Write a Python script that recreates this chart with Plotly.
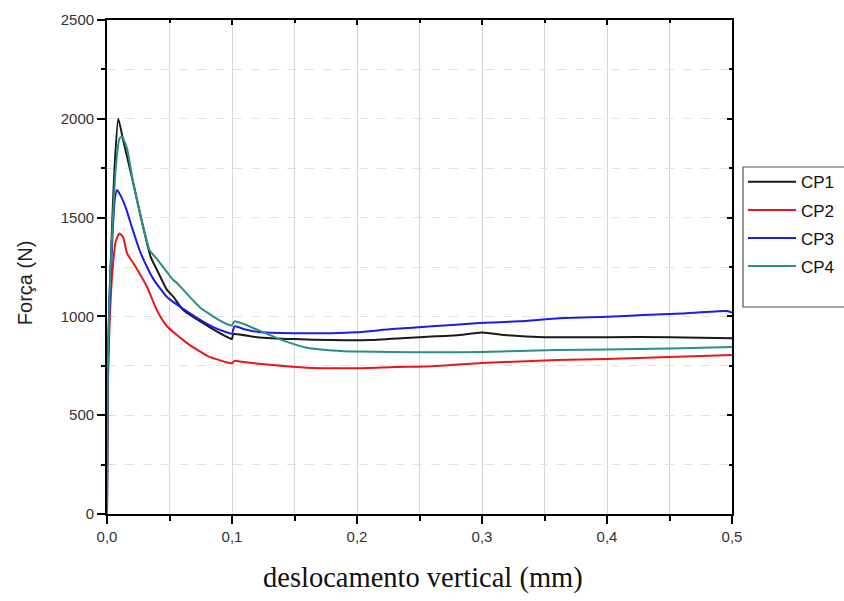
import plotly.graph_objects as go

# Force (N) vs vertical displacement (mm) for four specimens
cp1_x = [0, 0.0005, 0.002, 0.004, 0.006, 0.009, 0.013, 0.021, 0.029, 0.035, 0.040, 0.048, 0.053, 0.061,
         0.082, 0.098, 0.100, 0.101, 0.12, 0.15, 0.18, 0.21, 0.25, 0.28, 0.30, 0.32, 0.35, 0.40, 0.45, 0.50]
cp1_y = [0, 700, 1100, 1450, 1750, 2000, 1890, 1675, 1450, 1300, 1235, 1134, 1100, 1032,
         946, 890, 885, 910, 895, 885, 880, 880, 895, 905, 918, 905, 895, 895, 895, 890]

cp2_x = [0, 0.0005, 0.002, 0.004, 0.007, 0.010, 0.013, 0.016, 0.022, 0.032, 0.040, 0.048, 0.064,
         0.082, 0.098, 0.100, 0.102, 0.108, 0.13, 0.16, 0.20, 0.23, 0.26, 0.30, 0.36, 0.40, 0.45, 0.50]
cp2_y = [0, 600, 950, 1200, 1380, 1420, 1400, 1320, 1260, 1150, 1030, 950, 865,
         795, 764, 762, 775, 770, 755, 740, 738, 744, 748, 764, 779, 785, 795, 805]

cp3_x = [0, 0.0005, 0.002, 0.004, 0.006, 0.008, 0.011, 0.015, 0.020, 0.026, 0.032, 0.037, 0.048, 0.066,
         0.085, 0.098, 0.100, 0.102, 0.11, 0.121, 0.15, 0.18, 0.20, 0.228, 0.26, 0.298, 0.33, 0.362,
         0.40, 0.429, 0.46, 0.496, 0.50]
cp3_y = [0, 650, 1050, 1350, 1580, 1640, 1610, 1550, 1450, 1336, 1250, 1190, 1098, 1017,
         946, 915, 912, 950, 935, 921, 915, 915, 920, 936, 950, 966, 975, 991,
         998, 1007, 1015, 1027, 1020]

cp4_x = [0, 0.0005, 0.002, 0.004, 0.007, 0.010, 0.012, 0.016, 0.021, 0.029, 0.034, 0.040, 0.053, 0.056,
         0.074, 0.090, 0.098, 0.100, 0.102, 0.11, 0.121, 0.14, 0.161, 0.18, 0.20, 0.228, 0.26, 0.30,
         0.36, 0.40, 0.45, 0.50]
cp4_y = [0, 700, 1100, 1400, 1750, 1900, 1910, 1850, 1675, 1452, 1336, 1290, 1184, 1169,
         1048, 980, 956, 955, 975, 960, 930, 880, 840, 828, 822, 820, 818, 820,
         830, 833, 838, 845]

series_names = ["CP1", "CP2", "CP3", "CP4"]
series_colors = ["#1a1a1a", "#e8171c", "#1c1ce6", "#2a8f86"]

x_tick_vals = [0.0, 0.1, 0.2, 0.3, 0.4, 0.5]
x_tick_text = ["0,0", "0,1", "0,2", "0,3", "0,4", "0,5"]
y_tick_vals = [0, 500, 1000, 1500, 2000, 2500]
y_tick_text = ["0", "500", "1000", "1500", "2000", "2500"]

fig = go.Figure()
for name, xs, ys, col in zip(series_names,
                             [cp1_x, cp2_x, cp3_x, cp4_x],
                             [cp1_y, cp2_y, cp3_y, cp4_y],
                             series_colors):
    fig.add_trace(go.Scatter(x=xs, y=ys, mode="lines", name=name, legendgroup=name,
                             line=dict(color=col, width=2, shape="spline", smoothing=0.5)))

# carrier trace so the mirrored top/right axes get drawn
fig.add_trace(go.Scatter(x=[None], y=[None], xaxis="x2", yaxis="y2", showlegend=False,
                         hoverinfo="skip"))

tick_font = dict(family="Liberation Sans, Arial, sans-serif", size=15, color="#333333")

fig.update_layout(
    width=844, height=601,
    margin=dict(l=107, r=112, t=20, b=87, autoexpand=False),
    paper_bgcolor="white", plot_bgcolor="white",
    showlegend=True,
    legend=dict(x=1.0176, y=0.708, xanchor="left", yanchor="top",
                font=dict(family="Liberation Sans, Arial, sans-serif", size=17, color="#111111"),
                bgcolor="rgba(0,0,0,0)", borderwidth=0, tracegroupgap=3, itemwidth=48),
    xaxis=dict(range=[0, 0.5], tickvals=x_tick_vals, ticktext=x_tick_text,
               ticks="outside", ticklen=8, tickwidth=1.5, tickcolor="black",
               showline=True, linecolor="black", linewidth=1.8, mirror=True,
               showgrid=True, gridcolor="#d6d6d6", gridwidth=1, zeroline=False,
               tickfont=tick_font,
               minor=dict(dtick=0.05, tick0=0, ticks="outside", ticklen=5, tickwidth=1.5,
                          tickcolor="black", showgrid=True, gridcolor="#d6d6d6", gridwidth=1)),
    yaxis=dict(range=[0, 2500], tickvals=y_tick_vals, ticktext=y_tick_text,
               ticks="outside", ticklen=8, tickwidth=1.5, tickcolor="black",
               showline=True, linecolor="black", linewidth=1.8, mirror=True,
               showgrid=True, gridcolor="#e2e2e2", gridwidth=1, griddash="dash", zeroline=False,
               tickfont=tick_font,
               minor=dict(dtick=250, tick0=0, ticks="outside", ticklen=4, tickwidth=1.5,
                          tickcolor="black", showgrid=True, gridcolor="#e2e2e2", gridwidth=1,
                          griddash="dash")),
    xaxis2=dict(range=[0, 0.5], overlaying="x", side="top", anchor="y",
                tickvals=x_tick_vals, ticks="inside", ticklen=5, tickwidth=1.5, tickcolor="black",
                showticklabels=False, showgrid=False, showline=False, zeroline=False,
                minor=dict(dtick=0.05, tick0=0, ticks="inside", ticklen=3, tickwidth=1.5,
                           tickcolor="black", showgrid=False)),
    yaxis2=dict(range=[0, 2500], overlaying="y", side="right", anchor="x",
                tickvals=y_tick_vals, ticks="inside", ticklen=5, tickwidth=1.5, tickcolor="black",
                showticklabels=False, showgrid=False, showline=False, zeroline=False,
                minor=dict(dtick=250, tick0=0, ticks="inside", ticklen=3, tickwidth=1.5,
                           tickcolor="black", showgrid=False)),
    shapes=[dict(type="rect", xref="paper", yref="paper", x0=1.0176, x1=1.3, y0=0.419, y1=0.7024,
                 line=dict(color="#555555", width=1.2), fillcolor="rgba(0,0,0,0)", layer="above")],
    annotations=[
        dict(text="Força (N)", xref="paper", yref="paper", x=-0.131, y=0.4676,
             textangle=-90, showarrow=False, xanchor="center", yanchor="middle",
             font=dict(family="Liberation Sans, Arial, sans-serif", size=20, color="#222222")),
        dict(text="deslocamento vertical (mm)", xref="paper", yref="paper", x=0.5056, y=-0.1296,
             showarrow=False, xanchor="center", yanchor="middle",
             font=dict(family="Liberation Serif, Times New Roman, serif", size=28.5, color="#111111")),
    ],
)

fig.write_html("out.html")
